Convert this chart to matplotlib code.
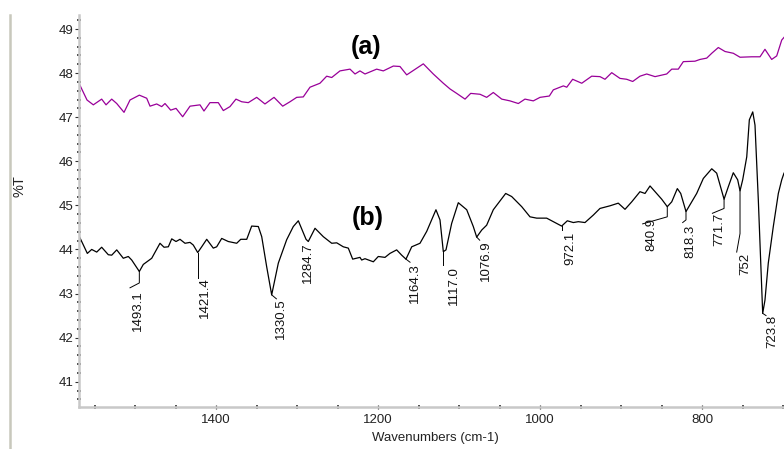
import matplotlib
matplotlib.use("Agg")
import matplotlib.pyplot as plt
from matplotlib.ticker import MultipleLocator
from matplotlib.lines import Line2D

plt.rcParams['font.family'] = ['Liberation Sans', 'DejaVu Sans']

# ---- data: spectrum (a) ----
wn_a = [1569.2, 1559.3, 1551.5, 1541.2, 1535.8, 1528.8, 1522.6, 1513.6, 1506.2, 1494.7,
        1485.6, 1481.5, 1473.3, 1467.1, 1463.0, 1456.0, 1449.4, 1441.2, 1432.1, 1419.8,
        1414.9, 1407.5, 1397.2, 1391.0, 1382.8, 1375.4, 1368.3, 1360.2, 1349.8, 1339.6,
        1328.4, 1317.7, 1308.7, 1300.4, 1292.3, 1284.0, 1271.7, 1263.4, 1257.2, 1247.0,
        1234.6, 1228.4, 1222.3, 1216.1, 1201.7, 1193.5, 1181.1, 1172.9, 1164.6, 1144.1,
        1131.8, 1119.4, 1111.1, 1102.9, 1092.6, 1085.6, 1074.1, 1065.9, 1057.7, 1047.3,
        1037.1, 1026.8, 1018.6, 1008.3, 1000.0, 988.5, 983.6, 971.2, 967.0, 959.7,
        948.5, 936.2, 926.0, 919.8, 911.5, 901.3, 893.0, 885.6, 876.6, 868.3,
        858.0, 843.6, 837.4, 829.3, 823.1, 808.7, 802.5, 794.2, 788.0, 779.9,
        771.6, 761.4, 753.1, 738.7, 728.4, 722.3, 714.0, 707.8, 701.6, 698.8]
t_a = [47.77, 47.39, 47.28, 47.41, 47.28, 47.41, 47.31, 47.11, 47.39, 47.50,
       47.43, 47.25, 47.30, 47.24, 47.31, 47.16, 47.20, 47.01, 47.25, 47.28,
       47.14, 47.33, 47.33, 47.15, 47.24, 47.41, 47.35, 47.33, 47.45, 47.30,
       47.45, 47.25, 47.35, 47.45, 47.46, 47.68, 47.77, 47.93, 47.90, 48.05,
       48.09, 47.98, 48.05, 47.98, 48.09, 48.05, 48.16, 48.15, 47.96, 48.21,
       47.98, 47.77, 47.64, 47.54, 47.41, 47.54, 47.52, 47.45, 47.56, 47.41,
       47.37, 47.31, 47.41, 47.37, 47.45, 47.48, 47.62, 47.71, 47.68, 47.86,
       47.77, 47.93, 47.92, 47.86, 48.01, 47.88, 47.86, 47.81, 47.93, 47.98,
       47.92, 47.98, 48.09, 48.09, 48.26, 48.27, 48.31, 48.34, 48.45, 48.58,
       48.49, 48.45, 48.36, 48.37, 48.37, 48.54, 48.31, 48.39, 48.75, 48.81]

# ---- data: spectrum (b) ----
wn_b = [1569.2, 1558.9, 1553.5, 1547.3, 1541.2, 1533.0, 1528.8, 1522.6, 1514.5, 1508.3,
        1504.1, 1494.7, 1489.8, 1479.4, 1469.2, 1464.2, 1458.9, 1454.7, 1449.4, 1444.5,
        1438.3, 1432.1, 1428.1, 1422.6, 1417.7, 1411.5, 1403.4, 1399.2, 1393.0, 1384.9,
        1374.5, 1369.5, 1362.1, 1356.0, 1347.8, 1343.6, 1337.5, 1331.3, 1323.1, 1312.8,
        1304.6, 1298.4, 1288.9, 1286.1, 1277.8, 1267.6, 1257.2, 1251.0, 1242.9, 1236.7,
        1231.3, 1222.3, 1220.2, 1216.1, 1205.8, 1199.7, 1191.4, 1185.3, 1177.0, 1170.8,
        1165.5, 1158.4, 1148.2, 1139.9, 1128.5, 1123.5, 1119.4, 1116.1, 1109.1, 1100.9,
        1090.5, 1082.4, 1078.2, 1072.0, 1065.9, 1057.7, 1042.4, 1035.0, 1022.6, 1012.4,
        1004.1, 991.8, 983.6, 973.3, 966.3, 958.9, 952.7, 944.5, 934.2, 926.0,
        917.7, 913.6, 903.4, 895.1, 886.8, 876.6, 870.4, 864.2, 856.0, 849.8,
        842.9, 837.4, 830.5, 826.3, 819.8, 812.8, 806.6, 798.4, 788.0, 781.9,
        777.8, 772.8, 767.6, 761.4, 756.0, 753.1, 749.8, 744.8, 741.6, 737.4,
        734.6, 730.5, 726.3, 725.1, 722.3, 718.2, 712.0, 705.8, 701.6, 698.8]
t_b = [44.31, 43.91, 44.00, 43.94, 44.05, 43.88, 43.87, 43.99, 43.80, 43.84,
       43.76, 43.50, 43.66, 43.80, 44.14, 44.05, 44.06, 44.24, 44.18, 44.23,
       44.14, 44.16, 44.10, 43.93, 44.06, 44.23, 44.03, 44.06, 44.25, 44.18,
       44.14, 44.23, 44.23, 44.53, 44.52, 44.29, 43.61, 42.97, 43.69, 44.22,
       44.52, 44.65, 44.23, 44.18, 44.48, 44.29, 44.14, 44.15, 44.06, 44.03,
       43.78, 43.82, 43.76, 43.79, 43.72, 43.84, 43.82, 43.91, 43.99, 43.87,
       43.78, 44.06, 44.14, 44.41, 44.90, 44.67, 43.95, 43.99, 44.59, 45.06,
       44.90, 44.52, 44.28, 44.44, 44.55, 44.90, 45.27, 45.20, 44.97, 44.74,
       44.71, 44.71, 44.63, 44.53, 44.65, 44.61, 44.63, 44.61, 44.78, 44.93,
       44.97, 44.99, 45.05, 44.91, 45.08, 45.31, 45.27, 45.44, 45.27, 45.14,
       44.97, 45.08, 45.38, 45.27, 44.86, 45.08, 45.27, 45.61, 45.83, 45.73,
       45.46, 45.14, 45.42, 45.74, 45.58, 45.33, 45.58, 46.10, 46.94, 47.12,
       46.82, 45.12, 43.08, 42.55, 42.85, 43.69, 44.52, 45.27, 45.58, 45.73]

# ---- peak labels: text, label x, label top y, leader path (x list, y list) ----
peak_text = ["1493.1", "1421.4", "1330.5", "1284.7", "1164.3", "1117.0", "1076.9",
             "972.1", "840.9", "818.3", "771.7", "752", "723.8"]
peak_lx = [1496.3, 1413.6, 1319.8, 1286.4, 1154.0, 1106.5, 1067.3,
           962.4, 862.2, 813.8, 778.1, 746.9, 712.9]
peak_ly = [43.08, 43.38, 42.90, 44.15, 43.69, 43.62, 44.21,
           44.40, 44.71, 44.55, 44.83, 43.92, 42.51]
leader_x = [[1494.7, 1494.7, 1506.2], [1422.6, 1422.6], [1331.3, 1325.5], [1286.1, 1286.1],
            [1165.5, 1160.5], [1119.4, 1119.4], [1078.2, 1074.5], [973.3, 973.3],
            [842.9, 842.9, 873.3], [819.8, 819.8, 823.9], [772.8, 772.8, 787.2],
            [753.1, 753.1, 757.2], [725.1, 721.0]]
leader_y = [[43.50, 43.24, 43.13], [43.93, 43.35], [42.97, 42.88], [44.18, 44.16],
            [43.78, 43.71], [43.95, 43.64], [44.28, 44.21], [44.53, 44.44],
            [44.97, 44.74, 44.58], [44.86, 44.67, 44.61], [45.14, 44.93, 44.82],
            [45.33, 44.36, 43.94], [42.55, 42.50]]

# series tags
tag_text = ["(a)", "(b)"]
tag_x = [1214.9, 1212.4]
tag_y = [48.59, 44.71]

W, H = 784, 449
fig = plt.figure(figsize=(W / 100, H / 100), dpi=100)
ax = fig.add_axes([78.5 / W, (H - 407) / H, (W - 78.5) / W, (407 - 15) / H])

ax.plot(wn_a, t_a, color='#990099', lw=0.9)
ax.plot(wn_b, t_b, color='black', lw=0.9)

for txt, lx, ly, px, py in zip(peak_text, peak_lx, peak_ly, leader_x, leader_y):
    ax.plot(px, py, color='black', lw=0.7)
    ax.text(lx, ly, txt, rotation=90, ha='center', va='top', fontsize=9.5, color='#111')

for txt, x, y in zip(tag_text, tag_x, tag_y):
    ax.text(x, y, txt, fontsize=18, fontweight='bold', ha='center', va='center')

ax.set_xlim(1569.8, 698.8)
ax.set_ylim(40.426, 49.318)

ax.xaxis.set_major_locator(MultipleLocator(200))
ax.xaxis.set_minor_locator(MultipleLocator(50))
ax.yaxis.set_major_locator(MultipleLocator(1))
ax.yaxis.set_minor_locator(MultipleLocator(0.2))

for s in ['top', 'right']:
    ax.spines[s].set_visible(False)
for s in ['left', 'bottom']:
    ax.spines[s].set_color('#c8c8c8')
    ax.spines[s].set_linewidth(1.8)

ax.tick_params(axis='y', which='major', direction='out', length=3, width=0.8,
               color='#333333', labelsize=9.5, pad=0.5, labelcolor='#222222')
ax.tick_params(axis='y', which='minor', direction='inout', length=2.5, width=1.2,
               color='#333333')
ax.tick_params(axis='x', which='major', direction='inout', length=3.5, width=0.9,
               color='#333333', labelsize=9.5, pad=3, labelcolor='#222222')
ax.tick_params(axis='x', which='minor', direction='inout', length=2.5, width=1.2,
               color='#333333')

fig.text(20 / W, 1 - 186 / H, "%T", rotation=90, ha='center', va='center',
         fontsize=10.5, color='#222222')
fig.text(435 / W, 1 - 438 / H, "Wavenumbers (cm-1)", ha='center', va='center',
         fontsize=9.5, color='#222222')

fig.add_artist(Line2D([10 / W, 10 / W], [0, 1 - 15 / H], transform=fig.transFigure,
                      color='#c8c8bc', lw=1.8))

fig.savefig("out.png", dpi=100)
